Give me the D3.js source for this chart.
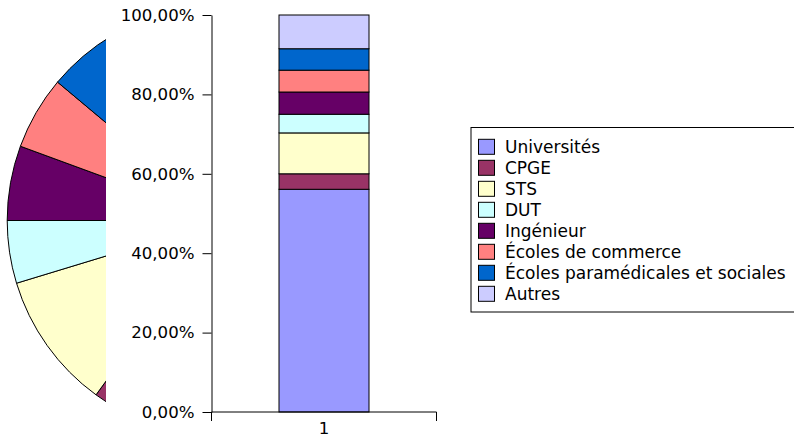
<!DOCTYPE html>
<html>
<head>
<meta charset="utf-8">
<script src="https://cdn.jsdelivr.net/npm/d3@7"></script>
<style>
  html, body { margin: 0; padding: 0; background: #fff; }
  svg { display: block; font-family: "DejaVu Sans", sans-serif; }
</style>
</head>
<body>
<svg id="chart" width="794" height="437"></svg>
<script>
// Répartition des bacheliers par filière (part en %)
const categories = ["Universités", "CPGE", "STS", "DUT", "Ingénieur",
  "Écoles de commerce", "Écoles paramédicales et sociales", "Autres"];
const shares = [56.1, 3.9, 10.3, 4.7, 5.6, 5.5, 5.4, 8.5];
const colors = ["#9999ff", "#993366", "#ffffcc", "#ccffff", "#660066",
  "#ff8080", "#0066cc", "#ccccff"];
const barLabels = ["1"];
const tickValues = [0, 20, 40, 60, 80, 100];

const svg = d3.select("#chart");
const W = 794, H = 437;
svg.append("rect").attr("width", W).attr("height", H).attr("fill", "#fff");

const color = d3.scaleOrdinal().domain(categories).range(colors);
const rows = categories.map((c, i) => ({ cat: c, value: shares[i] }));

// Camembert en arrière-plan, en grande partie recouvert par l'histogramme
const pieG = svg.append("g").attr("transform", "translate(222.7,220.5)");
const pie = d3.pie().sort(null).value(d => d.value);
const arc = d3.arc().innerRadius(0).outerRadius(215.5);
pieG.selectAll("path")
  .data(pie(rows))
  .join("path")
  .attr("d", arc)
  .attr("fill", d => color(d.data.cat))
  .attr("stroke", "#000")
  .attr("stroke-width", 1);

// Fond blanc de la zone de l'histogramme
svg.append("rect")
  .attr("x", 106).attr("y", 0)
  .attr("width", W - 106).attr("height", H)
  .attr("fill", "#fff");

// Histogramme empilé à 100 %
const x = d3.scaleBand().domain(barLabels).range([211.5, 436.5])
  .paddingInner(0).paddingOuter(0.75);
const y = d3.scaleLinear().domain([0, 100]).range([412, 15]);

const stackRow = {};
categories.forEach((c, i) => { stackRow[c] = shares[i]; });
stackRow.label = barLabels[0];
const series = d3.stack().keys(categories)([stackRow]);

svg.append("g")
  .selectAll("rect")
  .data(series)
  .join("rect")
  .attr("x", d => x(d[0].data.label))
  .attr("width", x.bandwidth())
  .attr("y", d => y(d[0][1]))
  .attr("height", d => y(d[0][0]) - y(d[0][1]))
  .attr("fill", d => color(d.key))
  .attr("stroke", "#000")
  .attr("stroke-width", 1);

// Axe vertical
const fr = d3.formatLocale({ decimal: ",", thousands: " ", grouping: [3], currency: ["", " €"] });
const fmt = v => fr.format(".2f")(v) + "%";
const yAxis = svg.append("g")
  .attr("transform", "translate(211.5,0)")
  .call(d3.axisLeft(y).tickValues(tickValues).tickFormat(fmt)
    .tickSizeInner(9).tickSizeOuter(0).tickPadding(8));
yAxis.select(".domain").attr("stroke", "#000");
yAxis.selectAll(".tick line").attr("stroke", "#000");
yAxis.selectAll("text")
  .attr("font-family", "DejaVu Sans, sans-serif")
  .attr("font-size", 16.6)
  .attr("fill", "#000");

// Axe horizontal avec repères aux limites de la catégorie
const xAxis = svg.append("g")
  .attr("transform", "translate(0,412)")
  .call(d3.axisBottom(x).tickSize(0).tickPadding(10));
xAxis.select(".domain").remove();
xAxis.append("path")
  .attr("d", `M${x.range()[0]},9V0H${x.range()[1]}V9`)
  .attr("fill", "none").attr("stroke", "#000");
xAxis.selectAll("text")
  .attr("font-family", "DejaVu Sans, sans-serif")
  .attr("font-size", 16.6)
  .attr("fill", "#000");

// Légende
const legend = svg.append("g");
legend.append("rect")
  .attr("x", 471).attr("y", 127.5)
  .attr("width", 340).attr("height", 184.5)
  .attr("fill", "#fff").attr("stroke", "#000");
const item = legend.selectAll("g.item")
  .data(categories)
  .join("g")
  .attr("class", "item")
  .attr("transform", (d, i) => `translate(0,${146.8 + i * 21})`);
item.append("rect")
  .attr("x", 478.5).attr("y", -7.5)
  .attr("width", 16).attr("height", 15)
  .attr("fill", d => color(d))
  .attr("stroke", "#000").attr("stroke-width", 1);
item.append("text")
  .attr("x", 505)
  .attr("dy", "0.35em")
  .attr("font-size", 17)
  .attr("fill", "#000")
  .text(d => d);
</script>
</body>
</html>
